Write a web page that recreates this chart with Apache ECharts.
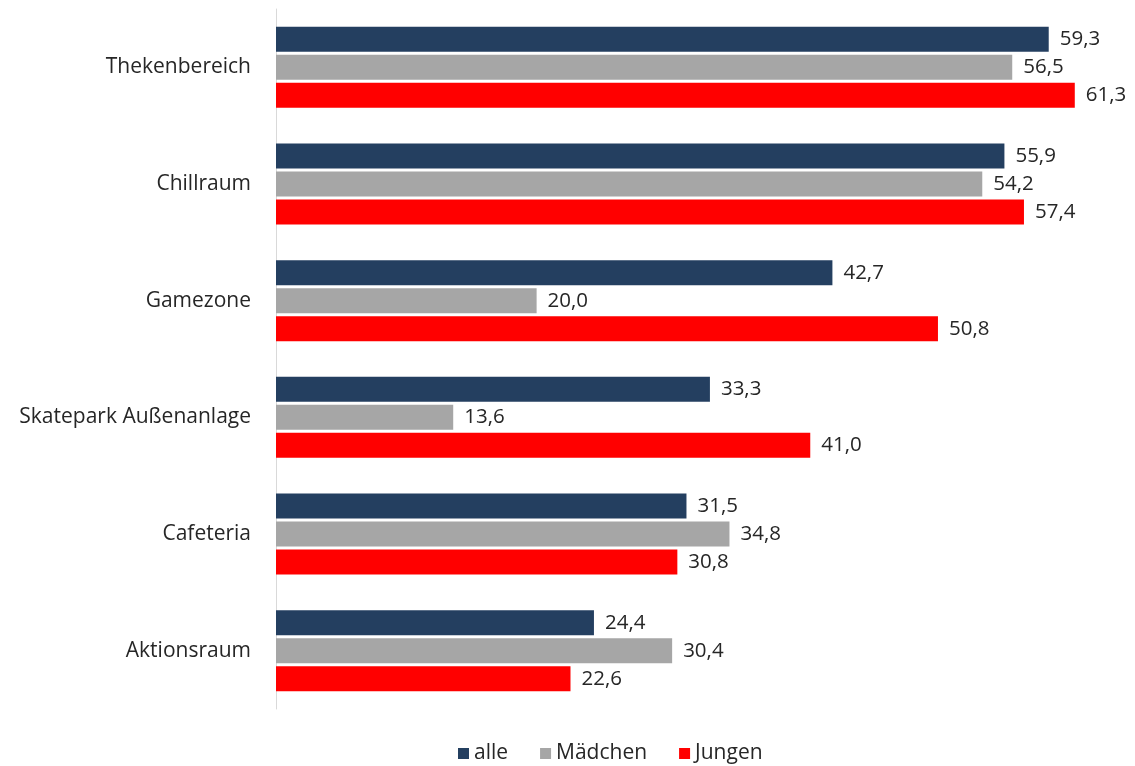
<!DOCTYPE html>
<html><head><meta charset="utf-8">
<script src="https://cdn.jsdelivr.net/npm/echarts@6/dist/echarts.min.js"></script>
<style>html,body{margin:0;padding:0;background:#fff}#c{width:1135px;height:766px}</style>
</head><body><div id="c"></div>
<script>
const categories = ["Thekenbereich","Chillraum","Gamezone","Skatepark Außenanlage","Cafeteria","Aktionsraum"];
const seriesNames = ["alle","Mädchen","Jungen"];
const alle = [59.3,55.9,42.7,33.3,31.5,24.4];
const maedchen = [56.5,54.2,20.0,13.6,34.8,30.4];
const jungen = [61.3,57.4,50.8,41.0,30.8,22.6];
const colors = ["#243F60","#A6A6A6","#FF0000"];
const font = "'Open Sans', 'Noto Sans', sans-serif";
const chart = echarts.init(document.getElementById('c'));
const mk = (name, data, color) => ({
  name, type:'bar', data, barWidth:25, barGap:'12%',
  itemStyle:{color},
  label:{show:true, position:'right', distance:11, color:'#262626', fontSize:20.5, fontFamily:font,
    formatter:p=>p.value.toFixed(1).replace('.',',')}
});
chart.setOption({
  animation:false,
  grid:{left:276, top:9, height:700, right:12},
  xAxis:{type:'value', min:0, max:65, show:false},
  yAxis:{type:'category', data:categories, inverse:true,
    axisLine:{lineStyle:{color:'#D9D9D9', width:1}}, axisTick:{show:false},
    axisLabel:{margin:25, color:'#262626', fontSize:21, fontFamily:font}},
  legend:{top:738, left:453, itemWidth:11, itemHeight:11, itemGap:32, icon:'rect',
    textStyle:{fontSize:21, color:'#262626', fontFamily:font}, data:seriesNames},
  series:[mk(seriesNames[0],alle,colors[0]), mk(seriesNames[1],maedchen,colors[1]), mk(seriesNames[2],jungen,colors[2])]
});
</script></body></html>
